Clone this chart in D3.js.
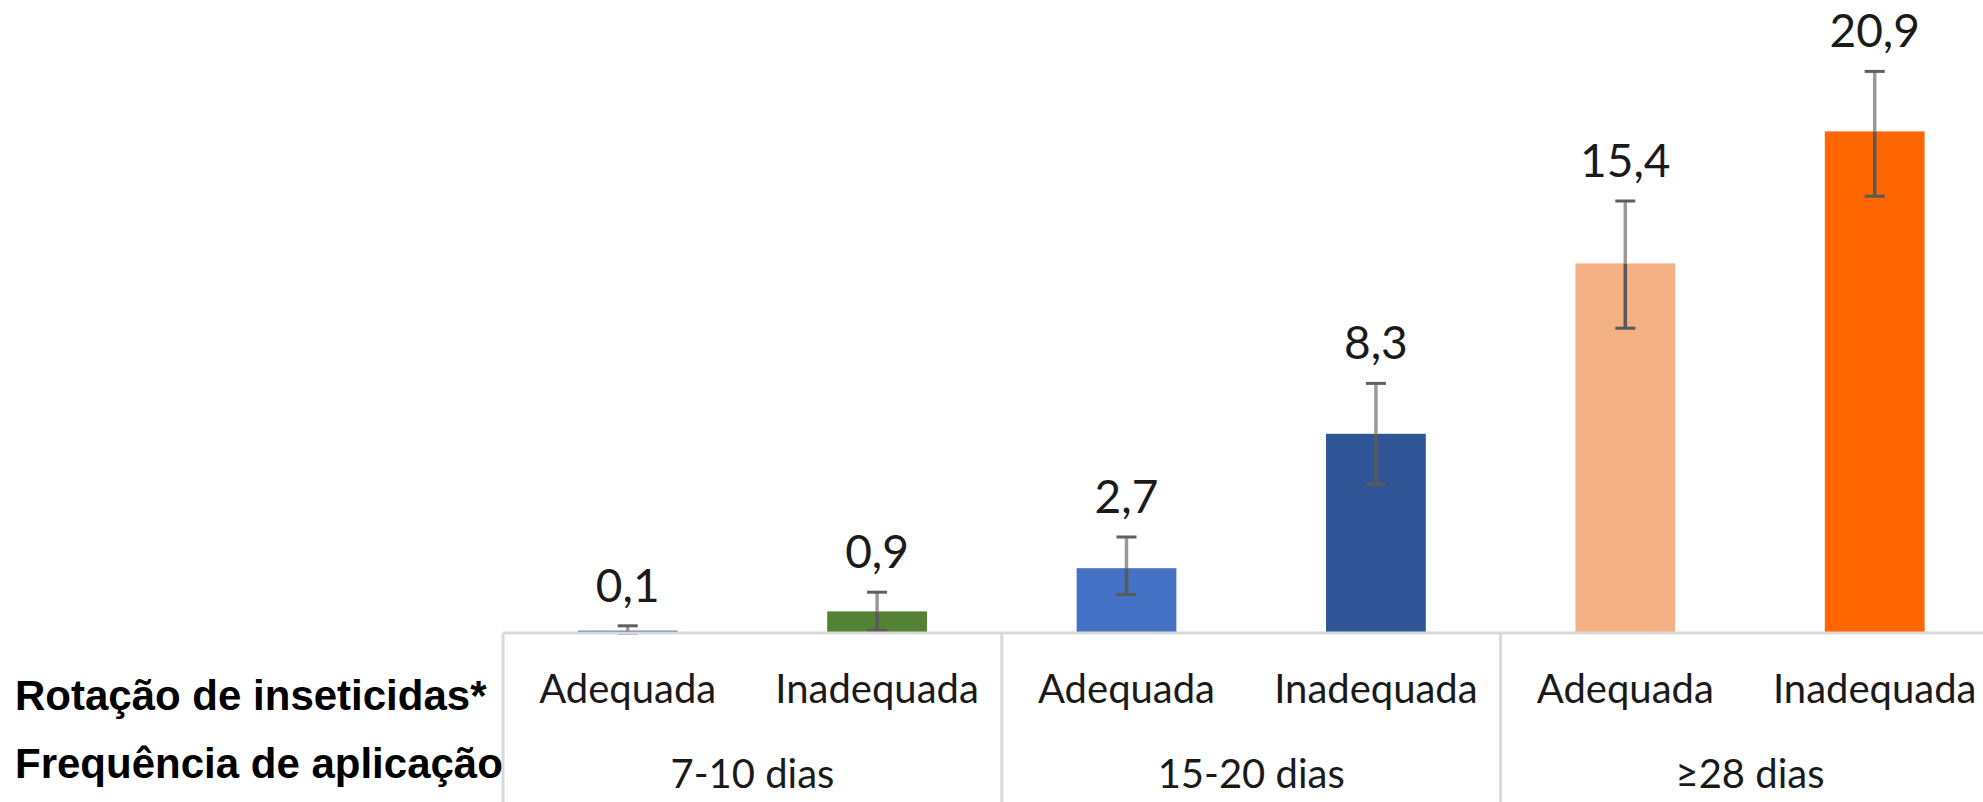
<!DOCTYPE html>
<html>
<head>
<meta charset="utf-8">
<script src="https://cdn.jsdelivr.net/npm/d3@7"></script>
<style>
  html, body { margin: 0; padding: 0; background: #fff; overflow: hidden; }
  svg { display: block; }
</style>
</head>
<body>
<script>
// data
var groups = ['7-10 dias', '15-20 dias', '\u226528 dias'];
var rotation = ['Adequada', 'Inadequada'];
var values = [0.1, 0.9, 2.7, 8.3, 15.4, 20.9];
var lower = [0.0, 0.1, 1.6, 6.2, 12.7, 18.2];
var upper = [0.3, 1.7, 4.0, 10.4, 18.0, 23.4];
var labels = ['0,1', '0,9', '2,7', '8,3', '15,4', '20,9'];
var colors = ['#4472C4', '#548235', '#4472C4', '#2F5597', '#F4B183', '#FF6600'];
var rowTitles = ['Rota\u00e7\u00e3o de inseticidas*', 'Frequ\u00eancia de aplica\u00e7\u00e3o'];

var width = 1983, height = 802;
var axisY = 633, axisLeft = 503;

var keys = [];
groups.forEach(function (g) {
  rotation.forEach(function (r) { keys.push(g + '|' + r); });
});

var svg = d3.select('body').append('svg')
  .attr('width', width).attr('height', height);

var x = d3.scaleBand().domain(keys)
  .range([axisLeft, axisLeft + 6 * 249.4])
  .paddingInner(0.6).paddingOuter(0.3);

var y = d3.scaleLinear().domain([0, 25]).range([axisY, axisY - 600]);

var step = x.step();

// bars
svg.selectAll('rect.bar').data(values).enter().append('rect')
  .attr('class', 'bar')
  .attr('x', function (d, i) { return x(keys[i]); })
  .attr('y', function (d) { return y(d); })
  .attr('width', x.bandwidth())
  .attr('height', function (d) { return y(0) - y(d); })
  .attr('fill', function (d, i) { return colors[i]; });

// error bars
var eb = svg.selectAll('g.err').data(values).enter().append('g')
  .attr('class', 'err')
  .attr('transform', function (d, i) { return 'translate(' + (x(keys[i]) + x.bandwidth() / 2) + ',0)'; });

eb.append('line')
  .attr('x1', 0).attr('x2', 0)
  .attr('y1', function (d, i) { return y(lower[i]); })
  .attr('y2', function (d) { return y(d); })
  .attr('stroke', '#595959').attr('stroke-width', 3.5);

eb.append('line')
  .attr('x1', 0).attr('x2', 0)
  .attr('y1', function (d) { return y(d); })
  .attr('y2', function (d, i) { return y(upper[i]); })
  .attr('stroke', '#999').attr('stroke-width', 3.5);

eb.append('line')
  .attr('x1', -10).attr('x2', 10)
  .attr('y1', function (d, i) { return y(upper[i]); })
  .attr('y2', function (d, i) { return y(upper[i]); })
  .attr('stroke', '#5f5f5f').attr('stroke-width', 3);

eb.append('line')
  .attr('x1', -10).attr('x2', 10)
  .attr('y1', function (d, i) { return y(lower[i]); })
  .attr('y2', function (d, i) { return y(lower[i]); })
  .attr('stroke', '#595959').attr('stroke-width', 3);

// value labels
svg.selectAll('text.val').data(labels).enter().append('text')
  .attr('class', 'val')
  .attr('x', function (d, i) { return x(keys[i]) + x.bandwidth() / 2; })
  .attr('y', function (d, i) { return y(upper[i]) - 24; })
  .attr('text-anchor', 'middle')
  .style('font-family', 'Lato, sans-serif')
  .style('font-size', '46px')
  .style('fill', '#1a1a1a')
  .text(function (d) { return d; });

// category axis (two levels)
svg.append('line')
  .attr('x1', axisLeft).attr('x2', width + 20)
  .attr('y1', axisY).attr('y2', axisY)
  .attr('stroke', '#d9d9d9').attr('stroke-width', 3);

d3.range(groups.length + 1).forEach(function (g) {
  var gx = axisLeft + g * 2 * step;
  svg.append('line')
    .attr('x1', gx).attr('x2', gx)
    .attr('y1', axisY).attr('y2', height)
    .attr('stroke', '#d9d9d9').attr('stroke-width', 3);
});

svg.selectAll('text.sub').data(keys).enter().append('text')
  .attr('class', 'sub')
  .attr('x', function (d) { return x(d) + x.bandwidth() / 2; })
  .attr('y', 703)
  .attr('text-anchor', 'middle')
  .style('font-family', 'Lato, sans-serif')
  .style('font-size', '40px')
  .style('fill', '#1a1a1a')
  .text(function (d) { return d.split('|')[1]; });

svg.selectAll('text.grp').data(groups).enter().append('text')
  .attr('class', 'grp')
  .attr('x', function (d, i) { return axisLeft + (i * 2 + 1) * step; })
  .attr('y', 788)
  .attr('text-anchor', 'middle')
  .style('font-family', 'Lato, sans-serif')
  .style('font-size', '40px')
  .style('fill', '#1a1a1a')
  .text(function (d) { return d; });

svg.selectAll('text.row').data(rowTitles).enter().append('text')
  .attr('class', 'row')
  .attr('x', 15)
  .attr('y', function (d, i) { return i === 0 ? 710 : 778; })
  .style('font-family', '"Liberation Sans", Arial, sans-serif')
  .style('font-weight', 'bold')
  .style('font-size', '42px')
  .style('fill', '#000')
  .text(function (d) { return d; });
</script>
</body>
</html>
